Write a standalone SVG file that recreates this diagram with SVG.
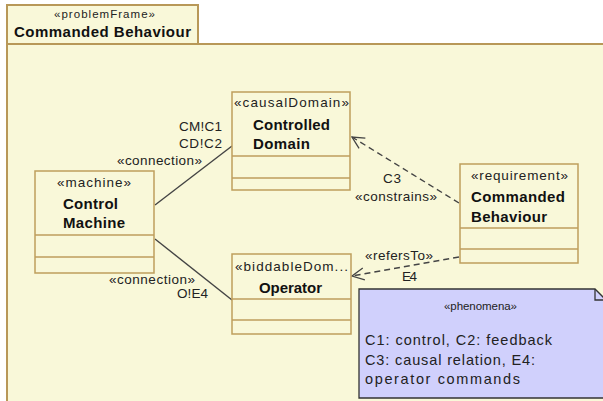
<svg xmlns="http://www.w3.org/2000/svg" width="603" height="401" viewBox="0 0 603 401">
<defs>
<style>
.frame{fill:#F9F8D9;stroke:#B89858;stroke-width:2}
.box{fill:#F9F8D9;stroke:#BE9E5C;stroke-width:1.5}
.sep{stroke:#BE9E5C;stroke-width:1.5}
.st{font-family:"Liberation Sans",Arial,sans-serif;font-size:13.5px;fill:#222}
.nm{font-family:"Liberation Sans",Arial,sans-serif;font-size:15px;font-weight:bold;fill:#111}
.lb{font-family:"Liberation Sans",Arial,sans-serif;font-size:13.5px;fill:#222}
.sm{font-family:"Liberation Sans",Arial,sans-serif;font-size:11.5px;fill:#222}
.nt{font-family:"Liberation Sans",Arial,sans-serif;font-size:14.5px;fill:#222}
.solid{stroke:#444;stroke-width:1.4;fill:none}
.dash{stroke:#444;stroke-width:1.4;fill:none;stroke-dasharray:6,4}
</style>
<marker id="open" viewBox="0 0 14 14" refX="13" refY="7" markerWidth="14" markerHeight="14" markerUnits="userSpaceOnUse" orient="auto">
<path d="M1,1 L13,7 L1,13" fill="none" stroke="#444" stroke-width="1.3"/>
</marker>
</defs>

<g id="frame">
<rect class="frame" x="7" y="44" width="610" height="370"/>
<rect class="frame" x="7" y="5" width="191" height="39"/>
<text class="sm" x="104.5" y="18" text-anchor="middle" textLength="101" lengthAdjust="spacing">«problemFrame»</text>
<text class="nm" x="14" y="37" textLength="177" lengthAdjust="spacing">Commanded Behaviour</text>
</g>

<g id="connectors">
<line class="solid" x1="155" y1="205" x2="232" y2="146"/>
<line class="solid" x1="155" y1="239" x2="232" y2="300"/>
<line class="dash" x1="459" y1="203" x2="352" y2="137" marker-end="url(#open)"/>
<line class="dash" x1="459" y1="257" x2="352" y2="276" marker-end="url(#open)"/>
<text class="lb" x="179" y="131" textLength="43" lengthAdjust="spacing">CM!C1</text>
<text class="lb" x="179" y="148" textLength="43" lengthAdjust="spacing">CD!C2</text>
<text class="lb" x="117" y="165" textLength="85" lengthAdjust="spacing">«connection»</text>
<text class="lb" x="109" y="284" textLength="86" lengthAdjust="spacing">«connection»</text>
<text class="lb" x="177" y="298" textLength="31" lengthAdjust="spacing">O!E4</text>
<text class="lb" x="383" y="183" textLength="18" lengthAdjust="spacing">C3</text>
<text class="lb" x="355" y="200.5" textLength="82" lengthAdjust="spacing">«constrains»</text>
<text class="lb" x="365" y="260" textLength="68" lengthAdjust="spacing">«refersTo»</text>
<text class="lb" x="402" y="281" textLength="15" lengthAdjust="spacing">E4</text>
</g>

<g id="control-machine">
<rect class="box" x="35" y="171" width="119" height="102"/>
<line class="sep" x1="35" y1="235" x2="154" y2="235"/>
<line class="sep" x1="35" y1="257" x2="154" y2="257"/>
<text class="st" x="57" y="187" textLength="74" lengthAdjust="spacing">«machine»</text>
<text class="nm" x="63" y="209" textLength="55" lengthAdjust="spacing">Control</text>
<text class="nm" x="63" y="228" textLength="62" lengthAdjust="spacing">Machine</text>
</g>

<g id="controlled-domain">
<rect class="box" x="232" y="92" width="118" height="98"/>
<line class="sep" x1="232" y1="156" x2="350" y2="156"/>
<line class="sep" x1="232" y1="178" x2="350" y2="178"/>
<text class="st" x="234" y="107" textLength="115" lengthAdjust="spacing">«causalDomain»</text>
<text class="nm" x="253" y="129.5" textLength="77" lengthAdjust="spacing">Controlled</text>
<text class="nm" x="253" y="149" textLength="57" lengthAdjust="spacing">Domain</text>
</g>

<g id="commanded-behaviour">
<rect class="box" x="460" y="164" width="118" height="99"/>
<line class="sep" x1="460" y1="228" x2="578" y2="228"/>
<line class="sep" x1="460" y1="249" x2="578" y2="249"/>
<text class="st" x="471" y="180" textLength="97" lengthAdjust="spacing">«requirement»</text>
<text class="nm" x="471" y="202" textLength="94" lengthAdjust="spacing">Commanded</text>
<text class="nm" x="471" y="221.5" textLength="76" lengthAdjust="spacing">Behaviour</text>
</g>

<g id="operator">
<rect class="box" x="232" y="254" width="119" height="80"/>
<line class="sep" x1="232" y1="299" x2="351" y2="299"/>
<line class="sep" x1="232" y1="320" x2="351" y2="320"/>
<text class="st" x="235" y="271" textLength="113" lengthAdjust="spacing">«biddableDom...</text>
<text class="nm" x="259" y="292.5" textLength="63" lengthAdjust="spacing">Operator</text>
</g>

<g id="phenomena-note">
<path d="M359,289 H595 L606,300 V398 H359 Z" fill="#D0D0FC" stroke="#333" stroke-width="1.3"/>
<path d="M595,289 V300 H606" fill="none" stroke="#333" stroke-width="1.3"/>
<text class="sm" x="480.5" y="309.5" text-anchor="middle" textLength="73" lengthAdjust="spacing">«phenomena»</text>
<text class="nt" x="365" y="345" textLength="187" lengthAdjust="spacing">C1: control, C2: feedback</text>
<text class="nt" x="365" y="364.5" textLength="170" lengthAdjust="spacing">C3: causal relation, E4:</text>
<text class="nt" x="365" y="384" textLength="155" lengthAdjust="spacing">operator commands</text>
</g>
</svg>
